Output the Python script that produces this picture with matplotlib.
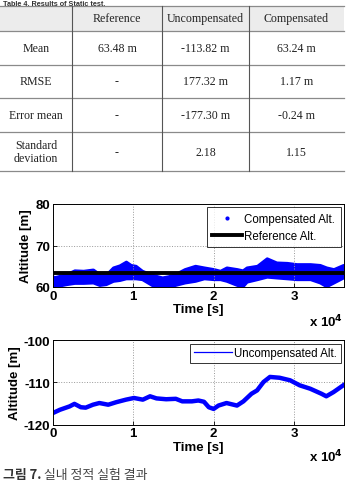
import matplotlib
matplotlib.use("Agg")
import matplotlib.pyplot as plt
from matplotlib.lines import Line2D
from matplotlib.patches import Rectangle
import numpy as np

plt.rcParams["axes.unicode_minus"] = False

# ---------------- data ----------------
table_title = "Table 4. Results of Static test."
col_labels = ["Reference", "Uncompensated", "Compensated"]
row_labels = ["Mean", "RMSE", "Error mean", "Standard\ndeviation"]
cell_text = [
    ["63.48 m", "-113.82 m", "63.24 m"],
    ["-", "177.32 m", "1.17 m"],
    ["-", "-177.30 m", "-0.24 m"],
    ["-", "2.18", "1.15"],
]

reference_alt = 63.48

# compensated altitude: band envelope (time in s)
comp_t = np.array([0, 0.03, 0.09, 0.17, 0.27, 0.38, 0.50, 0.58, 0.66, 0.75, 0.83,
                   0.91, 0.97, 1.03, 1.11, 1.24, 1.36, 1.44, 1.52, 1.64, 1.77, 1.88,
                   2.0, 2.08, 2.16, 2.29, 2.36, 2.41, 2.54, 2.66, 2.78, 2.91, 3.03,
                   3.20, 3.32, 3.40, 3.49, 3.61]) * 1e4
comp_upper = [62.5, 62.4, 62.7, 63.1, 64.0, 63.9, 64.2, 63.1, 62.9, 64.7, 65.2,
              66.1, 65.3, 65.1, 63.9, 62.9, 62.3, 62.6, 63.1, 64.3, 65.1, 64.7,
              64.3, 63.9, 64.7, 64.3, 64.0, 64.7, 65.1, 66.9, 65.9, 65.8, 65.5,
              65.5, 65.3, 64.7, 64.3, 65.3]
comp_lower = [60.0, 59.6, 60.4, 60.7, 61.0, 61.0, 61.1, 60.5, 60.7, 61.5, 61.7,
              62.1, 62.1, 62.1, 61.9, 60.4, 59.6, 59.8, 60.5, 61.1, 61.5, 62.1,
              61.9, 61.9, 61.5, 60.5, 60.2, 61.3, 61.9, 62.5, 62.3, 62.1, 61.9,
              61.9, 61.1, 60.2, 61.1, 62.3]

# uncompensated altitude
unc_t = np.array([0, 0.09, 0.21, 0.27, 0.35, 0.41, 0.50, 0.58, 0.69, 0.79, 0.91,
                  1.01, 1.12, 1.21, 1.29, 1.41, 1.53, 1.61, 1.73, 1.81, 1.88, 1.94,
                  2.0, 2.06, 2.16, 2.29, 2.37, 2.47, 2.54, 2.62, 2.70, 2.82, 2.95,
                  3.07, 3.20, 3.34, 3.40, 3.49, 3.61]) * 1e4
unc_alt = [-117.3, -116.5, -115.7, -115.1, -115.9, -116.0, -115.3, -114.9, -115.3,
           -114.7, -114.1, -113.7, -114.1, -113.3, -113.8, -114.0, -113.9, -114.5,
           -114.5, -114.3, -114.6, -115.9, -116.3, -115.5, -114.9, -115.5, -114.5,
           -112.7, -111.9, -109.9, -108.7, -108.9, -109.5, -110.7, -111.5, -112.7,
           -113.3, -112.3, -110.7]

xticks = [0, 10000, 20000, 30000]
xtick_labels = ["0", "1", "2", "3"]
caption_bold = "그림 7."
caption_rest = " 실내 정적 실험 결과"

# ---------------- figure ----------------
W, H = 348, 481
fig = plt.figure(figsize=(W / 100, H / 100), dpi=100)
bg = fig.add_axes([0, 0, 1, 1])
bg.set_xlim(0, W)
bg.set_ylim(H, 0)
bg.axis("off")

# table title
bg.text(3, 6.2, table_title, fontsize=5.2, fontweight="bold", family="Liberation Sans",
        ha="left", va="baseline", color="#333333")

# table
col_x = [0, 72, 162, 249, 344]
row_y = [7.3, 31.5, 65.5, 99.3, 133.3, 172]
bg.add_patch(Rectangle((0, row_y[0]), col_x[-1], row_y[1] - row_y[0],
                       facecolor="#ececec", edgecolor="none"))
for y in row_y:
    bg.plot([0, col_x[-1]], [y, y], color="#8a8a8a", lw=0.9)
for x in col_x[1:-1]:
    bg.plot([x, x], [row_y[0], row_y[-1]], color="#555555", lw=0.8)
tfont = dict(family="Liberation Serif", fontsize=8.6, color="#222222",
             ha="center", va="center")
for j, lab in enumerate(col_labels):
    bg.text((col_x[j + 1] + col_x[j + 2]) / 2, (row_y[0] + row_y[1]) / 2, lab, **tfont)
for i, lab in enumerate(row_labels):
    yc = (row_y[i + 1] + row_y[i + 2]) / 2
    bg.text((col_x[0] + col_x[1]) / 2, yc, lab, linespacing=1.05, **tfont)
    for j, val in enumerate(cell_text[i]):
        bg.text((col_x[j + 1] + col_x[j + 2]) / 2, yc, val, **tfont)

bold = dict(fontweight="bold", family="Liberation Sans")


def style_axes(ax):
    ax.set_xlim(0, 36200)
    ax.set_xticks(xticks)
    ax.set_xticklabels(xtick_labels)
    ax.tick_params(direction="in", length=3, width=0.6, labelsize=9.5, pad=2)
    for lab in ax.get_xticklabels() + ax.get_yticklabels():
        lab.set_fontweight("bold")
        lab.set_family("Liberation Sans")
    ax.grid(True, linestyle=":", color="#999999", lw=0.7)
    for s in ax.spines.values():
        s.set_linewidth(0.7)
    ax.set_xlabel("Time [s]", fontsize=9.5, labelpad=1, **bold)
    ax.set_ylabel("Altitude [m]", fontsize=9.5, labelpad=2, **bold)


# plot 1
ax1 = fig.add_axes([52.7 / W, 1 - 288 / H, (344 - 52.7) / W, (288 - 205) / H])
ax1.fill_between(comp_t, comp_lower, comp_upper, color="#0000ff", lw=2.2,
                 edgecolor="#0000ff")
ax1.axhline(reference_alt, color="black", lw=2.8)
ax1.set_ylim(60, 80)
ax1.set_yticks([60, 70, 80])
style_axes(ax1)
h1 = [Line2D([], [], marker=".", ls="none", color="#0000ff", markersize=4),
      Line2D([], [], color="black", lw=2.8)]
leg1 = ax1.legend(h1, ["Compensated Alt.", "Reference Alt."], loc="upper right",
                  fontsize=8.3, frameon=True, fancybox=False, edgecolor="black",
                  borderpad=0.45, labelspacing=0.45, handlelength=2.6,
                  handletextpad=0.2, borderaxespad=0.3)
leg1.get_frame().set_linewidth(0.7)
for t in leg1.get_texts():
    t.set_family("Liberation Sans")
fig.text(343 / W, 1 - 322 / H, r"x 10$^{\mathbf{4}}$", fontsize=9.5, ha="right",
         va="center", **bold)

# plot 2
ax2 = fig.add_axes([52.7 / W, 1 - 425.5 / H, (344 - 52.7) / W, (425.5 - 341.3) / H])
ax2.plot(unc_t, unc_alt, color="#0000ff", lw=3.2)
ax2.set_ylim(-120, -100)
ax2.set_yticks([-120, -110, -100])
style_axes(ax2)
h2 = [Line2D([], [], color="#0000ff", lw=0.9)]
leg2 = ax2.legend(h2, ["Uncompensated Alt."], loc="upper right", fontsize=8.3,
                  frameon=True, fancybox=False, edgecolor="black", borderpad=0.3,
                  handlelength=3.3, handletextpad=0.2, borderaxespad=0.3)
leg2.get_frame().set_linewidth(0.7)
for t in leg2.get_texts():
    t.set_family("Liberation Sans")
fig.text(343 / W, 1 - 457 / H, r"x 10$^{\mathbf{4}}$", fontsize=9.5, ha="right",
         va="center", **bold)

# caption
cap1 = bg.text(3, 479, caption_bold, fontsize=9.3, fontweight="bold",
               family=["Noto Sans CJK KR", "DejaVu Sans"], ha="left", va="baseline",
               color="#333333")
fig.canvas.draw()
bb = cap1.get_window_extent()
bg.text(3 + bb.width, 479, caption_rest, fontsize=9.3,
        family=["Noto Sans CJK KR", "DejaVu Sans"], ha="left", va="baseline",
        color="#444444")

fig.savefig("out.png", dpi=100)
